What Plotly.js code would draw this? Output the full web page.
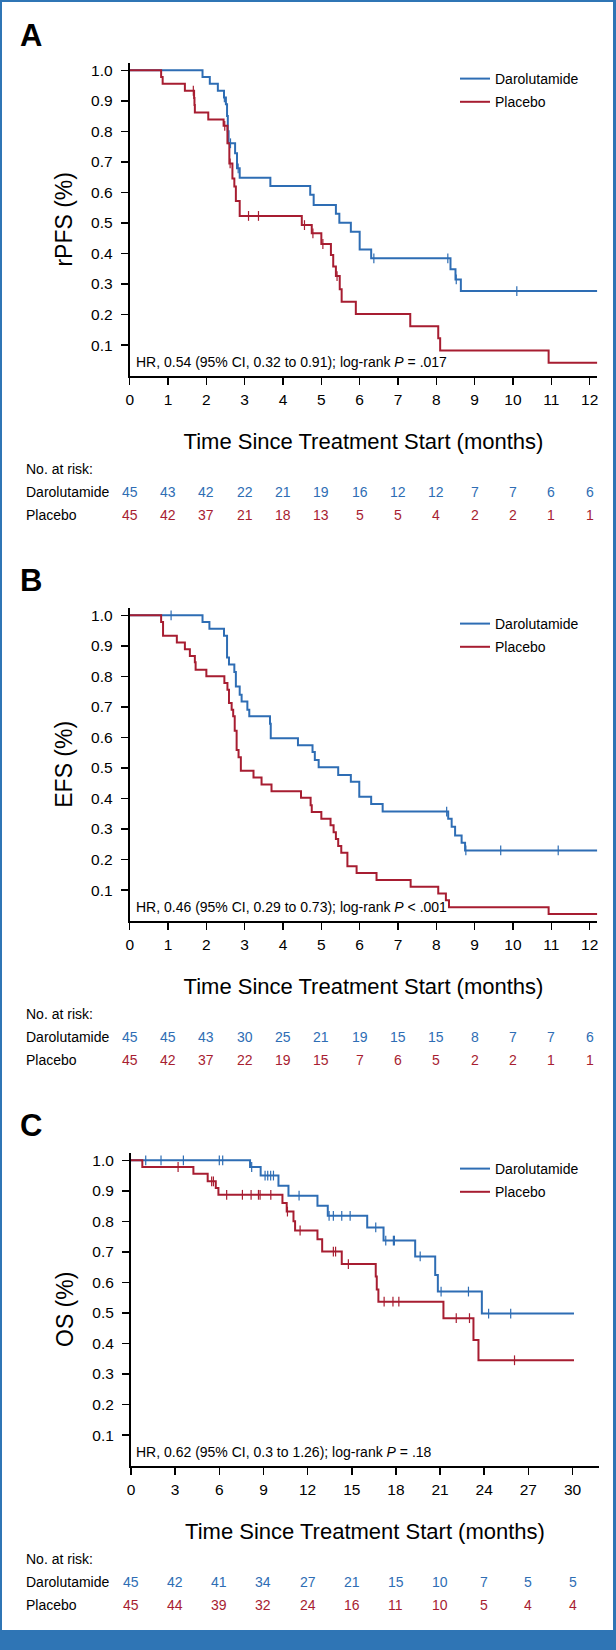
<!DOCTYPE html>
<html>
<head>
<meta charset="utf-8">
<script src="https://cdn.plot.ly/plotly-3.0.1.min.js"></script>
<style>
  html, body { margin: 0; padding: 0; background: #ffffff; }
  #chart { width: 616px; height: 1650px; }
</style>
</head>
<body>
<div id="chart"></div>
<script>
// ---------------- DATA ----------------
// Panel A: rPFS (months)
const rpfsDaroTime = [0, 1.90, 2.09, 2.30, 2.46, 2.51, 2.54, 2.56, 2.58, 2.75, 2.80, 2.87, 3.67, 4.71, 4.80, 5.38, 5.47, 5.77, 6.00, 6.30, 8.37, 8.50, 8.64, 12.2];
const rpfsDaroSurv = [1, 0.978, 0.956, 0.933, 0.911, 0.889, 0.850, 0.800, 0.761, 0.728, 0.679, 0.648, 0.621, 0.592, 0.559, 0.530, 0.501, 0.471, 0.413, 0.384, 0.348, 0.315, 0.277, 0.277];
const rpfsDaroCensor = [2.47, 2.63, 2.83, 6.37, 8.30, 8.52, 10.1];
const rpfsPlacTime = [0, 0.82, 0.86, 1.44, 1.68, 1.69, 1.70, 2.05, 2.45, 2.55, 2.60, 2.68, 2.73, 2.77, 2.87, 4.49, 4.75, 5.00, 5.25, 5.31, 5.38, 5.48, 5.53, 5.90, 7.32, 8.05, 8.10, 10.93, 12.2];
const rpfsPlacSurv = [1, 0.978, 0.956, 0.933, 0.909, 0.886, 0.862, 0.839, 0.818, 0.761, 0.695, 0.646, 0.619, 0.572, 0.523, 0.493, 0.466, 0.431, 0.395, 0.357, 0.326, 0.283, 0.242, 0.202, 0.162, 0.122, 0.082, 0.042, 0.042];
const rpfsPlacCensor = [1.66, 2.48, 2.62, 3.10, 3.36, 4.56, 4.78, 5.04, 5.41];
const rpfsTicks = [0,1,2,3,4,5,6,7,8,9,10,11,12];
const rpfsRiskDaro = [45,43,42,22,21,19,16,12,12,7,7,6,6];
const rpfsRiskPlac = [45,42,37,21,18,13,5,5,4,2,2,1,1];
const rpfsHR = 'HR, 0.54 (95% CI, 0.32 to 0.91); log-rank <i>P</i> = .017';

// Panel B: EFS (months)
const efsDaroTime = [0, 1.90, 2.08, 2.46, 2.54, 2.59, 2.73, 2.77, 2.87, 2.92, 3.07, 3.12, 3.66, 3.68, 4.39, 4.77, 4.83, 4.93, 5.44, 5.77, 5.99, 6.30, 6.60, 8.31, 8.40, 8.49, 8.66, 8.75, 12.2];
const efsDaroSurv = [1, 0.978, 0.956, 0.933, 0.862, 0.839, 0.814, 0.767, 0.740, 0.718, 0.691, 0.669, 0.645, 0.597, 0.574, 0.552, 0.526, 0.502, 0.477, 0.455, 0.406, 0.382, 0.357, 0.334, 0.307, 0.279, 0.255, 0.230, 0.230];
const efsDaroCensor = [1.08, 8.27, 8.77, 9.68, 11.18];
const efsPlacTime = [0, 0.82, 0.87, 1.23, 1.44, 1.57, 1.70, 1.72, 2.00, 2.47, 2.55, 2.59, 2.66, 2.70, 2.74, 2.79, 2.84, 2.90, 3.23, 3.44, 3.70, 4.47, 4.72, 4.75, 5.00, 5.24, 5.32, 5.38, 5.44, 5.52, 5.68, 5.92, 6.44, 7.33, 8.05, 8.25, 8.33, 10.93, 12.2];
const efsPlacSurv = [1, 0.978, 0.933, 0.911, 0.889, 0.867, 0.846, 0.822, 0.800, 0.778, 0.756, 0.713, 0.691, 0.669, 0.622, 0.559, 0.535, 0.491, 0.469, 0.446, 0.424, 0.402, 0.378, 0.356, 0.334, 0.312, 0.289, 0.267, 0.244, 0.222, 0.178, 0.156, 0.133, 0.111, 0.089, 0.067, 0.044, 0.022, 0.022];
const efsPlacCensor = [];
const efsTicks = [0,1,2,3,4,5,6,7,8,9,10,11,12];
const efsRiskDaro = [45,45,43,30,25,21,19,15,15,8,7,7,6];
const efsRiskPlac = [45,42,37,22,19,15,7,6,5,2,2,1,1];
const efsHR = 'HR, 0.46 (95% CI, 0.29 to 0.73); log-rank <i>P</i> &lt; .001';

// Panel C: OS (months)
const osDaroTime = [0, 8.09, 8.81, 10.02, 10.70, 12.67, 13.37, 16.05, 17.16, 19.31, 20.67, 20.85, 23.84, 30.1];
const osDaroSurv = [1, 0.978, 0.950, 0.917, 0.884, 0.851, 0.818, 0.780, 0.737, 0.685, 0.624, 0.570, 0.498, 0.498];
const osDaroCensor = [1.0, 2.04, 3.56, 6.0, 6.23, 8.2, 9.11, 9.29, 9.49, 9.68, 11.42, 13.46, 13.75, 14.32, 14.89, 16.63, 17.31, 17.83, 17.9, 19.65, 21.07, 22.93, 24.3, 25.8];
const osPlacTime = [0, 0.77, 4.24, 5.21, 5.76, 5.94, 10.29, 10.58, 11.04, 11.15, 12.67, 12.99, 14.32, 16.63, 16.70, 16.81, 21.23, 23.27, 23.61, 30.1];
const osPlacSurv = [1, 0.978, 0.956, 0.931, 0.909, 0.887, 0.860, 0.832, 0.800, 0.770, 0.741, 0.701, 0.660, 0.619, 0.577, 0.537, 0.483, 0.411, 0.345, 0.345];
const osPlacCensor = [3.2, 5.48, 5.6, 6.5, 7.57, 8.16, 8.66, 8.77, 9.5, 10.63, 11.49, 13.75, 13.9, 14.77, 17.2, 17.8, 18.2, 22.1, 23.0, 26.06];
const osTicks = [0,3,6,9,12,15,18,21,24,27,30];
const osRiskDaro = [45,42,41,34,27,21,15,10,7,5,5];
const osRiskPlac = [45,44,39,32,24,16,11,10,5,4,4];
const osHR = 'HR, 0.62 (95% CI, 0.3 to 1.26); log-rank <i>P</i> = .18';

const yTicks = [0.1,0.2,0.3,0.4,0.5,0.6,0.7,0.8,0.9,1.0];
const seriesNames = ['Darolutamide', 'Placebo'];

// ---------------- STYLE ----------------
const BLUE = '#2E6DB4';
const RED = '#A71D31';
const FRAME = '#2F75B5';
const W = 616, H = 1650;
const SANS = '"Liberation Sans", Arial, sans-serif';

function px2x(p) { return p / W; }
function py2y(p) { return 1 - p / H; }
function stepAt(times, surv, t) {
  let s = surv[0];
  for (let i = 0; i < times.length; i++) { if (times[i] <= t) s = surv[i]; }
  return s;
}

const panels = [
  {letter: 'A', ytitle: 'rPFS (%)', dT: rpfsDaroTime, dS: rpfsDaroSurv, dC: rpfsDaroCensor,
   pT: rpfsPlacTime, pS: rpfsPlacSurv, pC: rpfsPlacCensor, ticks: rpfsTicks,
   rD: rpfsRiskDaro, rP: rpfsRiskPlac, hr: rpfsHR, xmax: 12.2, xEnd: 597.3, x0: 129.7, off: 0},
  {letter: 'B', ytitle: 'EFS (%)', dT: efsDaroTime, dS: efsDaroSurv, dC: efsDaroCensor,
   pT: efsPlacTime, pS: efsPlacSurv, pC: efsPlacCensor, ticks: efsTicks,
   rD: efsRiskDaro, rP: efsRiskPlac, hr: efsHR, xmax: 12.2, xEnd: 597.3, x0: 129.7, off: 545},
  {letter: 'C', ytitle: 'OS (%)', dT: osDaroTime, dS: osDaroSurv, dC: osDaroCensor,
   pT: osPlacTime, pS: osPlacSurv, pC: osPlacCensor, ticks: osTicks,
   rD: osRiskDaro, rP: osRiskPlac, hr: osHR, xmax: 31.8, xEnd: 599, x0: 131, off: 1090}
];

const traces = [];
const layout = {
  width: W, height: H,
  margin: {l: 0, r: 0, t: 0, b: 0},
  paper_bgcolor: '#ffffff', plot_bgcolor: '#ffffff',
  font: {family: SANS, color: '#000000'},
  showlegend: true,
  annotations: [],
  shapes: [
    {type: 'rect', xref: 'paper', yref: 'paper', x0: 0, x1: 1, y0: py2y(2), y1: 1, fillcolor: FRAME, line: {width: 0}},
    {type: 'rect', xref: 'paper', yref: 'paper', x0: 0, x1: px2x(2), y0: 0, y1: 1, fillcolor: FRAME, line: {width: 0}},
    {type: 'rect', xref: 'paper', yref: 'paper', x0: px2x(613), x1: 1, y0: 0, y1: 1, fillcolor: FRAME, line: {width: 0}},
    {type: 'rect', xref: 'paper', yref: 'paper', x0: 0, x1: 1, y0: 0, y1: py2y(1630), fillcolor: FRAME, line: {width: 0}}
  ]
};

panels.forEach((p, i) => {
  const n = i === 0 ? '' : String(i + 1);
  const xa = 'x' + n, ya = 'y' + n;
  const lg = 'legend' + n;
  const yZero = 375.6 + p.off;   // pixel of y=0
  const yTop = 63 + p.off;       // pixel of axis top
  const ymax = (yZero - yTop) / 305.3;

  const curves = [[p.dT, p.dS, p.dC, BLUE, seriesNames[0]], [p.pT, p.pS, p.pC, RED, seriesNames[1]]];
  curves.forEach((c, k) => {
    traces.push({
      type: 'scatter', mode: 'lines', x: c[0], y: c[1], name: c[4],
      xaxis: xa, yaxis: ya, legend: lg, legendgroup: p.letter + k,
      line: {color: c[3], width: 2, shape: 'hv'}, hoverinfo: 'skip'
    });
  });
  curves.forEach((c, k) => {
    if (!c[2].length) return;
    traces.push({
      type: 'scatter', mode: 'markers', x: c[2], y: c[2].map(t => stepAt(c[0], c[1], t)),
      xaxis: xa, yaxis: ya, showlegend: false, hoverinfo: 'skip', cliponaxis: false,
      marker: {symbol: 'line-ns', size: 7, line: {color: c[3], width: 1.2}}
    });
  });

  layout['xaxis' + n] = {
    domain: [px2x(p.x0), px2x(p.xEnd)], range: [0, p.xmax], anchor: ya,
    tickvals: p.ticks, ticks: 'outside', ticklen: 7, tickwidth: 1.5, tickcolor: '#000',
    showline: true, linewidth: 2, linecolor: '#000', showgrid: false, zeroline: false,
    tickfont: {family: SANS, size: 15.5, color: '#000'}, ticklabelstandoff: 2,
    fixedrange: true, automargin: false,
    title: {text: 'Time Since Treatment Start (months)', font: {family: SANS, size: 22, color: '#000'}, standoff: 26}
  };
  layout['yaxis' + n] = {
    domain: [py2y(yZero), py2y(yTop)], range: [0, ymax], anchor: xa,
    tickvals: yTicks, tickformat: '.1f', ticks: 'outside', ticklen: 7, tickwidth: 1.5, tickcolor: '#000',
    showline: true, linewidth: 2, linecolor: '#000', showgrid: false, zeroline: false,
    tickfont: {family: SANS, size: 15.5, color: '#000'}, ticklabelstandoff: 5,
    fixedrange: true, automargin: false,
    title: {text: p.ytitle, font: {family: SANS, size: 23, color: '#000'}, standoff: 12}
  };
  layout[lg] = {
    x: px2x(455), y: py2y(63 + p.off), xanchor: 'left', yanchor: 'top',
    bgcolor: 'rgba(0,0,0,0)', borderwidth: 0, traceorder: 'grouped', tracegroupgap: 2,
    font: {family: SANS, size: 14, color: '#000'}
  };

  // Panel letter
  layout.annotations.push({xref: 'paper', yref: 'paper', x: px2x(18), y: py2y(35 + p.off),
    xanchor: 'left', yanchor: 'middle', showarrow: false, text: '<b>' + p.letter + '</b>',
    font: {family: SANS, size: 31, color: '#000'}});
  // HR text
  layout.annotations.push({xref: 'paper', yref: 'paper', x: px2x(134), y: py2y(361.7 + p.off),
    xanchor: 'left', yanchor: 'middle', showarrow: false, text: p.hr,
    font: {family: SANS, size: 14, color: '#000'}});
  // Risk table
  layout.annotations.push({xref: 'paper', yref: 'paper', x: px2x(24), y: py2y(469 + p.off),
    xanchor: 'left', yanchor: 'middle', showarrow: false, text: 'No. at risk:',
    font: {family: SANS, size: 14, color: '#000'}});
  [[seriesNames[0], p.rD, BLUE, 491.7], [seriesNames[1], p.rP, RED, 515]].forEach(row => {
    layout.annotations.push({xref: 'paper', yref: 'paper', x: px2x(24), y: py2y(row[3] + p.off),
      xanchor: 'left', yanchor: 'middle', showarrow: false, text: row[0],
      font: {family: SANS, size: 14, color: '#000'}});
    row[1].forEach((v, j) => {
      layout.annotations.push({xref: xa, yref: 'paper', x: p.ticks[j], y: py2y(row[3] + p.off),
        xanchor: 'center', yanchor: 'middle', showarrow: false, text: String(v),
        font: {family: SANS, size: 14, color: row[2]}});
    });
  });
});

Plotly.newPlot('chart', traces, layout, {staticPlot: true, displayModeBar: false});
</script>
</body>
</html>
